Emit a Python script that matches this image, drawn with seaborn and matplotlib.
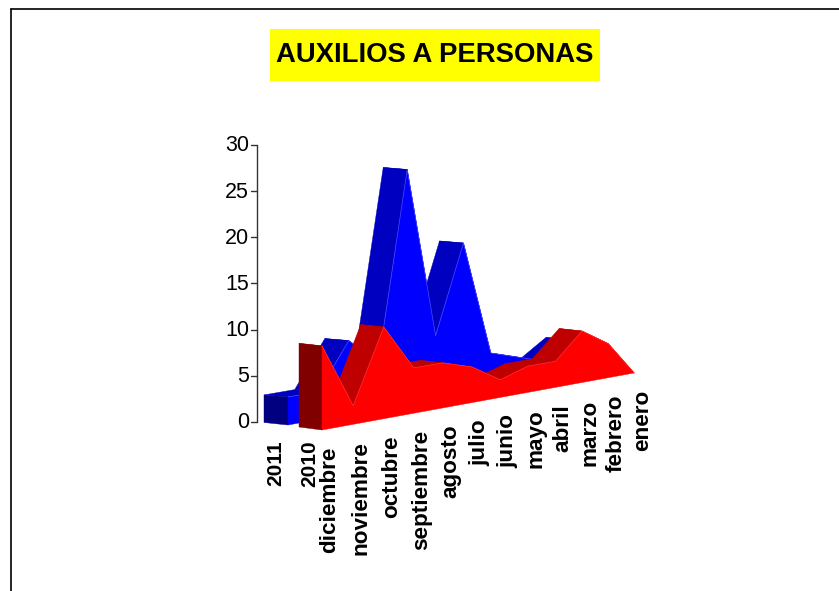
import matplotlib
matplotlib.use("Agg")
import matplotlib.pyplot as plt
import seaborn as sns
import pandas as pd
import numpy as np

TITLE = "AUXILIOS A PERSONAS"
months = ["diciembre", "noviembre", "octubre", "septiembre", "agosto", "julio",
          "junio", "mayo", "abril", "marzo", "febrero", "enero"]
years = ["2011", "2010"]
values_2011 = [3, 3, 8, 5, 26, 7, 17, 4, 3, 2, 4, 2]
values_2010 = [9, 2, 10, 5, 5, 4, 2, 3, 3, 6, 4, 0]
y_ticks = [0, 5, 10, 15, 20, 25, 30]

sns.set_theme(style="white")
plt.rcParams["font.family"] = ["Liberation Sans", "DejaVu Sans"]

fig = plt.figure(figsize=(8.39, 5.91), dpi=100, facecolor="white")
ax = fig.add_axes([0, 0, 1, 1])
ax.set_xlim(0, 839)
ax.set_ylim(591, 0)
ax.set_axis_off()

# Oblique view with a slight perspective: category index + value -> canvas position
PERSP = 0.01
SLOPE = 0.1827
VSCALE = 9.35


def project(i, v, origin, a):
    i = np.asarray(i, dtype=float)
    v = np.asarray(v, dtype=float)
    w = 1 + PERSP * i
    t = i / w
    return origin[0] + a * t, origin[1] - SLOPE * a * t - v * VSCALE / w


def draw_series(vals, origin, a, depth, c_front, c_top, c_wall, c_seam, z):
    idx = np.arange(len(vals))
    vals = np.asarray(vals, dtype=float)
    xt, yt = project(idx, vals, origin, a)
    xb, yb = project(idx, 0 * vals, origin, a)
    dx, dy = depth
    # top facets, far side first
    for k in range(len(vals) - 2, -1, -1):
        px = [xt[k], xt[k + 1], xt[k + 1] + dx, xt[k] + dx]
        py = [yt[k], yt[k + 1], yt[k + 1] + dy, yt[k] + dy]
        ax.fill(px, py, color=c_top, lw=0.3, zorder=z)
    # left wall
    ax.fill([xb[0], xt[0], xt[0] + dx, xb[0] + dx],
            [yb[0], yt[0], yt[0] + dy, yb[0] + dy - 0.5],
            color=c_wall, lw=0.3, zorder=z + 1)
    # front face
    ax.fill(np.r_[xt, xb[::-1]], np.r_[yt, yb[::-1]], color=c_front, lw=0.3, zorder=z + 2)
    # upper edge of the front face
    edge = pd.DataFrame({"x": xt, "y": yt})
    sns.lineplot(data=edge, x="x", y="y", estimator=None, sort=False, color=c_seam,
                 lw=0.5, ax=ax, zorder=z + 3)
    ax.set_xlim(0, 839)
    ax.set_ylim(591, 0)
    ax.set_axis_off()
    return xb, yb


BLUE_O, RED_O = (288, 425), (322, 430)
BLUE_A, RED_A = 31, 31.5
BLUE_D, RED_D = (-24, -2), (-23, -2.5)

xb_b, yb_b = draw_series(values_2011, BLUE_O, BLUE_A, BLUE_D,
                         "#0000FF", "#0000C0", "#000080", "#4A4AFF", 2)
xb_r, yb_r = draw_series(values_2010, RED_O, RED_A, RED_D,
                         "#FF0000", "#BF0000", "#800000", "#FF3030", 10)

# value axis
AX_X = 257
AX_Y0, PX_PER_UNIT = 422, 9.24
ax.plot([AX_X, AX_X], [AX_Y0 - y_ticks[-1] * PX_PER_UNIT, AX_Y0], color="#333333", lw=1.0, zorder=20)
for t in y_ticks:
    y = AX_Y0 - t * PX_PER_UNIT
    ax.plot([AX_X - 6, AX_X], [y, y], color="#333333", lw=1.0, zorder=20)
    ax.text(AX_X - 8, y + 1, str(t), ha="right", va="center", fontsize=15.5, color="black")

# category labels
for i, m in enumerate(months):
    x, y = project(i, 0, RED_O, RED_A)
    ax.text(x + 8, y + 17, m, rotation=90, ha="center", va="top", fontsize=16.2,
            fontweight="bold", color="black")
# series labels
ax.text(xb_b[0] - 12, 440, years[0], rotation=90, ha="center", va="top", fontsize=15,
        fontweight="bold", color="black")
ax.text(xb_r[0] - 12, 440, years[1], rotation=90, ha="center", va="top", fontsize=15,
        fontweight="bold", color="black")

# title and frame
ax.add_patch(plt.Rectangle((270, 29), 330, 52, color="#FFFF00", lw=0, zorder=1))
ax.text(435, 55, TITLE, ha="center", va="center", fontsize=19.8, fontweight="bold", color="black", zorder=2)
ax.plot([10.5, 839], [9, 9], color="black", lw=1.2, zorder=30)
ax.plot([10.5, 10.5], [9, 591], color="black", lw=1.2, zorder=30)

fig.savefig("out.png", dpi=100)
